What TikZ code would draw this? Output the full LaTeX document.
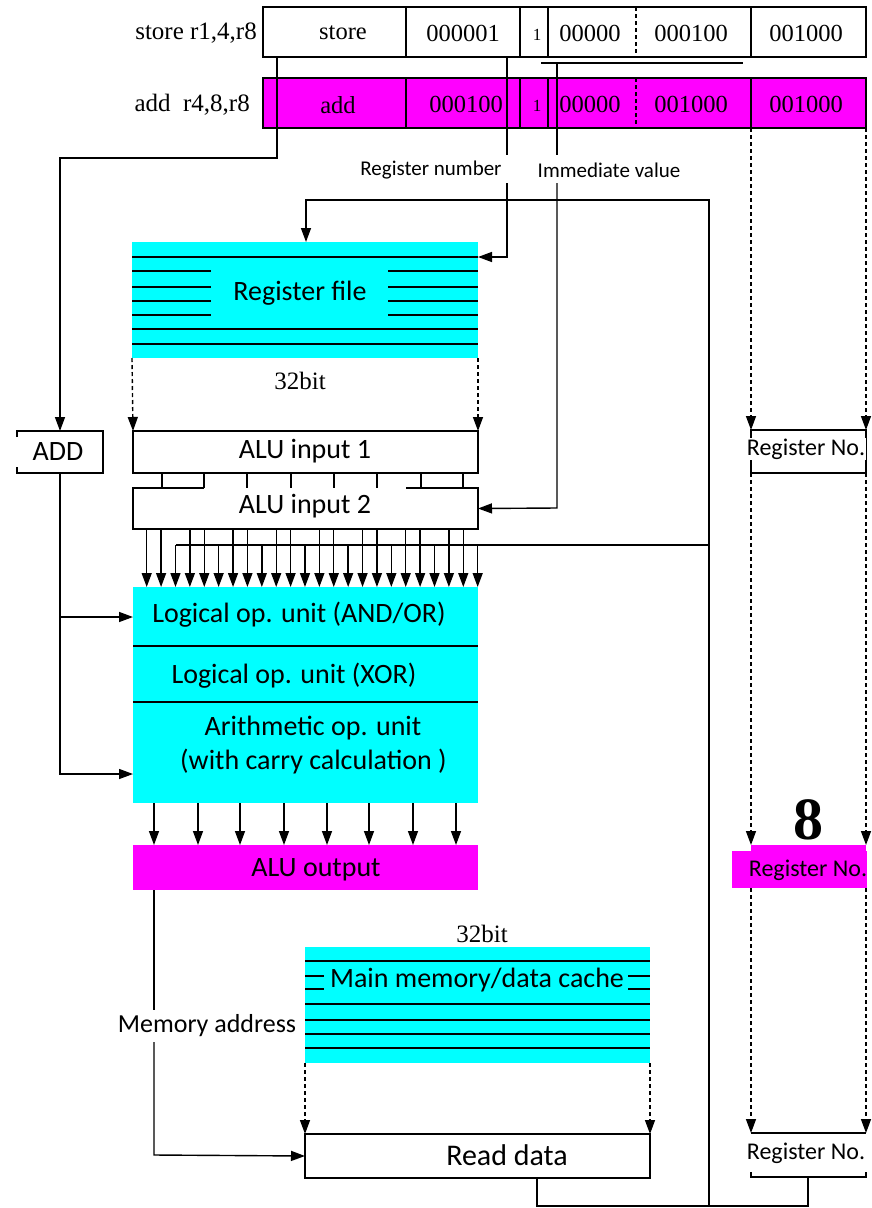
\documentclass[tikz,border=0pt]{standalone}
\usepackage{fontspec}
\setmainfont{Liberation Serif}
\newfontfamily\carlito{Carlito}
\usetikzlibrary{arrows.meta}
\definecolor{cy}{HTML}{00FFFF}
\definecolor{mg}{HTML}{FF00FF}
\tikzset{
  ln/.style={line width=1.4pt, draw=black},
  arr/.style={ln, -{Triangle[length=14pt,width=10pt]}},
  dsh/.style={ln, dash pattern=on 4pt off 3pt},
  darr/.style={dsh, -{Triangle[length=14pt,width=10pt]}},
  bx/.style={draw, line width=1.4pt, inner sep=0pt, outer sep=0pt},
  area/.style={inner sep=0pt, outer sep=0pt},
  sfbig/.style={font=\carlito\fontsize{28}{30}\selectfont, inner sep=0pt},
  sfreg/.style={font=\carlito\fontsize{24}{26}\selectfont, inner sep=1pt},
  sflab/.style={font=\carlito\fontsize{21}{23}\selectfont, inner sep=0pt},
  rmlab/.style={font=\fontsize{25}{27}\selectfont, inner sep=0pt},
  rmcell/.style={font=\fontsize{24.5}{26}\selectfont, inner sep=0pt},
  rmone/.style={font=\fontsize{17}{19}\selectfont, inner sep=0pt},
}
\begin{document}
\begin{tikzpicture}[x=1pt,y=-1pt]
\useasboundingbox (0,0) rectangle (871,1208);

% ---------- instruction rows ----------
\node[rmlab, anchor=east] (l1) at (257,33) {store r1,4,r8};
\node[rmlab, anchor=east] (l2) at (250,105) {add\enspace r4,8,r8};

\node[bx, minimum width=143pt, minimum height=50pt] (a1) at (334.5,32) {};
\node[bx, minimum width=114pt, minimum height=50pt] (b1) at (463,32) {};
\node[bx, minimum width=28pt, minimum height=50pt] (c1) at (534,32) {};
\node[bx, minimum width=203pt, minimum height=50pt] (d1) at (649.5,32) {};
\node[bx, minimum width=115pt, minimum height=50pt] (e1) at (808.5,32) {};
\draw[dsh] (636,7) -- (636,57);
\node[rmcell] (ta1) at (343,33) {store};
\node[rmcell] (tb1) at (463,33) {000001};
\node[rmone] (tc1) at (537,35) {1};
\node[rmcell] (td1) at (590,33) {00000};
\node[rmcell] (tf1) at (691,33) {000100};
\node[rmcell] (te1) at (806,33) {001000};

\node[bx, fill=mg, minimum width=143pt, minimum height=50pt] (a2) at (334.5,103) {};
\node[bx, fill=mg, minimum width=114pt, minimum height=50pt] (b2) at (463,103) {};
\node[bx, fill=mg, minimum width=28pt, minimum height=50pt] (c2) at (534,103) {};
\node[bx, fill=mg, minimum width=203pt, minimum height=50pt] (d2) at (649.5,103) {};
\node[bx, fill=mg, minimum width=115pt, minimum height=50pt] (e2) at (808.5,103) {};
\draw[dsh] (636,78) -- (636,128);
\node[rmcell] (ta2) at (338,105) {add};
\node[rmcell] (tb2) at (466,104) {000100};
\node[rmone] (tc2) at (537,106) {1};
\node[rmcell] (td2) at (590,104) {00000};
\node[rmcell] (tf2) at (691,104) {001000};
\node[rmcell] (te2) at (806,104) {001000};

% ---------- labels ----------
\node[sflab] (rnum) at (431,170) {Register number};
\node[sflab] (imm) at (609,170) {Immediate value};

% ---------- register file ----------
\node[area, fill=cy, minimum width=346pt, minimum height=116pt] (rf) at (305,300) {};
\foreach \yy in {257,329,344} \draw[ln] (132,\yy) -- (478,\yy);
\foreach \yy in {271,287,301,315} {\draw[ln] (132,\yy) -- (211,\yy); \draw[ln] (388,\yy) -- (478,\yy);}
\node[sfbig] (rft) at (300,293) {Register file};
\node[rmlab] (rfb) at (300,381) {32bit};

% ---------- ADD ----------
\node[area, minimum width=86pt, minimum height=42pt] (add) at (60,452) {};
\draw[ln] (17,437) -- (17,431) -- (103,431) -- (103,473) -- (17,473) -- (17,467);
\node[sfbig] (addt) at (58,452) {ADD};

% ---------- ALU inputs ----------
\node[bx, minimum width=345pt, minimum height=42pt] (ai1) at (305.5,452) {};
\node[sfbig] (ai1t) at (305,451) {ALU input 1};
\node[area, minimum width=345pt, minimum height=41pt] (ai2) at (305.5,508.5) {};
\draw[ln] (204,488) -- (133,488) -- (133,529) -- (478,529) -- (478,488) -- (406,488);
\node[sfbig] (ai2t) at (305,506) {ALU input 2};
\foreach \xx in {162,204,247,291,334,377,421,463} \draw[ln] (\xx,473) -- (\xx,488);

% ---------- logic unit ----------
\node[area, fill=cy, minimum width=345pt, minimum height=216pt] (lu) at (305.5,695) {};
\draw[ln] (133,646) -- (478,646);
\draw[ln] (133,702) -- (478,702);
\node[sfbig] (lu1) at (299,615) {Logical op. unit (AND/OR)};
\node[sfbig] (lu2) at (294,676) {Logical op. unit (XOR)};
\node[sfbig] (lu3) at (313,728) {Arithmetic op. unit};
\node[sfbig] (lu4) at (313.5,762) {(with carry calculation )};

% bus from ALU inputs
\coordinate (fbtop) at (709,200);
\coordinate (fbbot) at (709,1206);
\coordinate (busr) at (709,545);
\draw[ln] (busr) -- (175.5,545);
\foreach \k in {0,...,23}{
  \pgfmathtruncatemacro\m{mod(\k,3)}
  \pgfmathsetmacro\xx{146.7+14.39*\k}
  \ifnum\m=2
    \draw[arr] (\xx,545) -- (\xx,587);
  \else
    \draw[arr] (\xx,529) -- (\xx,587);
  \fi
}

% ---------- ALU output ----------
\node[area, fill=mg, minimum width=345pt, minimum height=45pt] (ao) at (305.5,867.5) {};
\node[sfbig] (aot) at (316,870) {ALU output};
\foreach \xx in {154,198,240,284,327,369,413,456} \draw[arr] (\xx,803) -- (\xx,845);

% ---------- memory ----------
\node[rmlab] (mmb) at (482,934) {32bit};
\node[area, fill=cy, minimum width=345pt, minimum height=116pt] (mm) at (477.5,1005) {};
\foreach \yy in {961,1004,1020,1034,1048} \draw[ln] (305,\yy) -- (650,\yy);
\foreach \yy in {976,989} {\draw[ln] (305,\yy) -- (324,\yy); \draw[ln] (628,\yy) -- (650,\yy);}
\node[sfbig] (mmt) at (477,980) {Main memory/data cache};

\node[bx, minimum width=345pt, minimum height=44pt] (rd) at (477.5,1156) {};
\node[font=\carlito\fontsize{30}{32}\selectfont, inner sep=0pt] (rdt) at (507,1155) {Read data};
\draw[darr] (mm.south west) -- (rd.north west);
\draw[darr] (mm.south east) -- (rd.north east);

\node[font=\carlito\fontsize{26}{28}\selectfont, inner sep=0pt] (madr) at (207,1026) {Memory address};
\draw[ln] (154,890) -- (154,1010);
\draw[arr] (154,1042) -- (154,1155) -- (rd.west);

% ---------- register file dashed outputs ----------
\draw[darr] (rf.south west) -- (ai1.north west);
\draw[darr] (rf.south east) -- (ai1.north east);

% ---------- instruction field connections ----------
\draw[arr] (277,57) -- (277,158) -- (60,158) -- (add.north);
\draw[arr] (add.south) -- (60,774) -- (133,774);
\draw[arr] (60,617) -- (133,617);

\draw[ln] (541,63) -- (743,63);
\draw[ln] (507,57) -- (507,155);
\draw[arr] (507,183) -- (507,257) -- (478,257);
\draw[ln] (557,63) -- (557,155);
\draw[arr] (557,183) -- (557,508) -- (ai2.east);

% ---------- right column ----------
\draw[darr] (751,128) -- (751,430);
\draw[darr] (866,128) -- (866,430);
\node[bx, minimum width=115pt, minimum height=43pt] (rn1) at (808.5,451.5) {};
\node[sfreg, fill=white] (rn1t) at (806,449) {Register No.};
\draw[darr] (751,473) -- (751,845);
\draw[darr] (866,473) -- (866,845);
\node[font=\bfseries\fontsize{60}{60}\selectfont, inner sep=0pt] (eight) at (808,820) {8};
\fill[mg] (751,845) rectangle (866,851);
\node[area, fill=mg, minimum width=135pt, minimum height=37pt] (rn2) at (799.5,869.5) {};
\node[sfreg] (rn2t) at (808,870) {Register No.};
\draw[darr] (751,888) -- (751,1133);
\draw[darr] (866,888) -- (866,1133);
\draw[ln] (751,1133) -- (866,1133);
\node[sfreg] (rn3t) at (806,1153) {Register No.};
\coordinate (rn3b) at (808,1177);
\draw[ln] (751,1172) -- (751,1177) -- (866,1177) -- (866,1172);

% ---------- write-back path ----------
\draw[ln] (rn3b) -- (808,1206) -- (537,1206) -- (537,1178);
\draw[arr] (fbbot) -- (fbtop) -- (306,200) -- (306,242);

\end{tikzpicture}
\end{document}
